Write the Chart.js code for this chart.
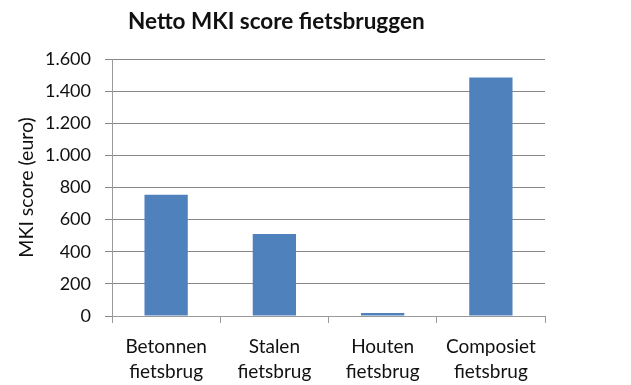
<!DOCTYPE html>
<html>
<head>
<meta charset="utf-8">
<script src="https://cdn.jsdelivr.net/npm/chart.js@4/dist/chart.umd.min.js"></script>
<style>
  html, body { margin: 0; padding: 0; background: #ffffff; }
  #wrap { width: 631px; height: 385px; }
</style>
</head>
<body>
<div id="wrap"><canvas id="c" width="631" height="385"></canvas></div>
<script>
const chartTitle = "Netto MKI score fietsbruggen";
const yAxisTitle = "MKI score (euro)";
const categories = [["Betonnen", "fietsbrug"], ["Stalen", "fietsbrug"], ["Houten", "fietsbrug"], ["Composiet", "fietsbrug"]];
const mkiValues = [755, 510, 18, 1485];
const yTicks = { min: 0, max: 1600, step: 200 };

function fmt(v) {
  return String(v).replace(/\B(?=(\d{3})+(?!\d))/g, ".");
}

const fontFam = "Lato, 'Open Sans', sans-serif";
const gridCol = "#888888";
const axisCol = "#9a9a9a";

// shift the title a little to the right of the plot's left edge
const titleShift = {
  id: "titleShift",
  afterLayout(chart) {
    const t = chart.titleBlock;
    if (t) { t.left += 16; t.right += 16; }
  }
};

new Chart(document.getElementById("c"), {
  type: "bar",
  data: {
    labels: categories,
    datasets: [{
      data: mkiValues,
      backgroundColor: "#4F81BD",
      borderWidth: 0,
      barPercentage: 0.4,
      categoryPercentage: 1.0
    }]
  },
  plugins: [titleShift],
  options: {
    responsive: false,
    animation: false,
    layout: { padding: { left: 0, right: 86, top: 0, bottom: 0 } },
    plugins: {
      legend: { display: false },
      tooltip: { enabled: false },
      title: {
        display: true,
        text: chartTitle,
        align: "start",
        fullSize: false,
        color: "#111111",
        font: { family: fontFam, size: 22.5, weight: "bold", lineHeight: 1.2 },
        padding: { top: 8, bottom: 24 }
      }
    },
    scales: {
      x: {
        grid: { drawOnChartArea: false, offset: true, tickLength: 7, color: axisCol },
        border: { color: axisCol },
        ticks: {
          color: "#111111",
          font: { family: fontFam, size: 19, lineHeight: 1.3158 },
          padding: 11,
          maxRotation: 0,
          autoSkip: false
        },
        afterFit: (s) => { s.height = 69; }
      },
      y: {
        min: yTicks.min,
        max: yTicks.max,
        grid: { color: gridCol, tickLength: 7 },
        border: { color: axisCol },
        ticks: {
          stepSize: yTicks.step,
          color: "#111111",
          font: { family: fontFam, size: 18 },
          padding: 14,
          callback: (v) => fmt(v)
        },
        title: {
          display: true,
          text: yAxisTitle,
          color: "#111111",
          font: { family: fontFam, size: 19.5, lineHeight: 1.2 },
          padding: { top: 15, bottom: 0 }
        },
        afterFit: (s) => { s.width = 112; }
      }
    }
  }
});
</script>
</body>
</html>
